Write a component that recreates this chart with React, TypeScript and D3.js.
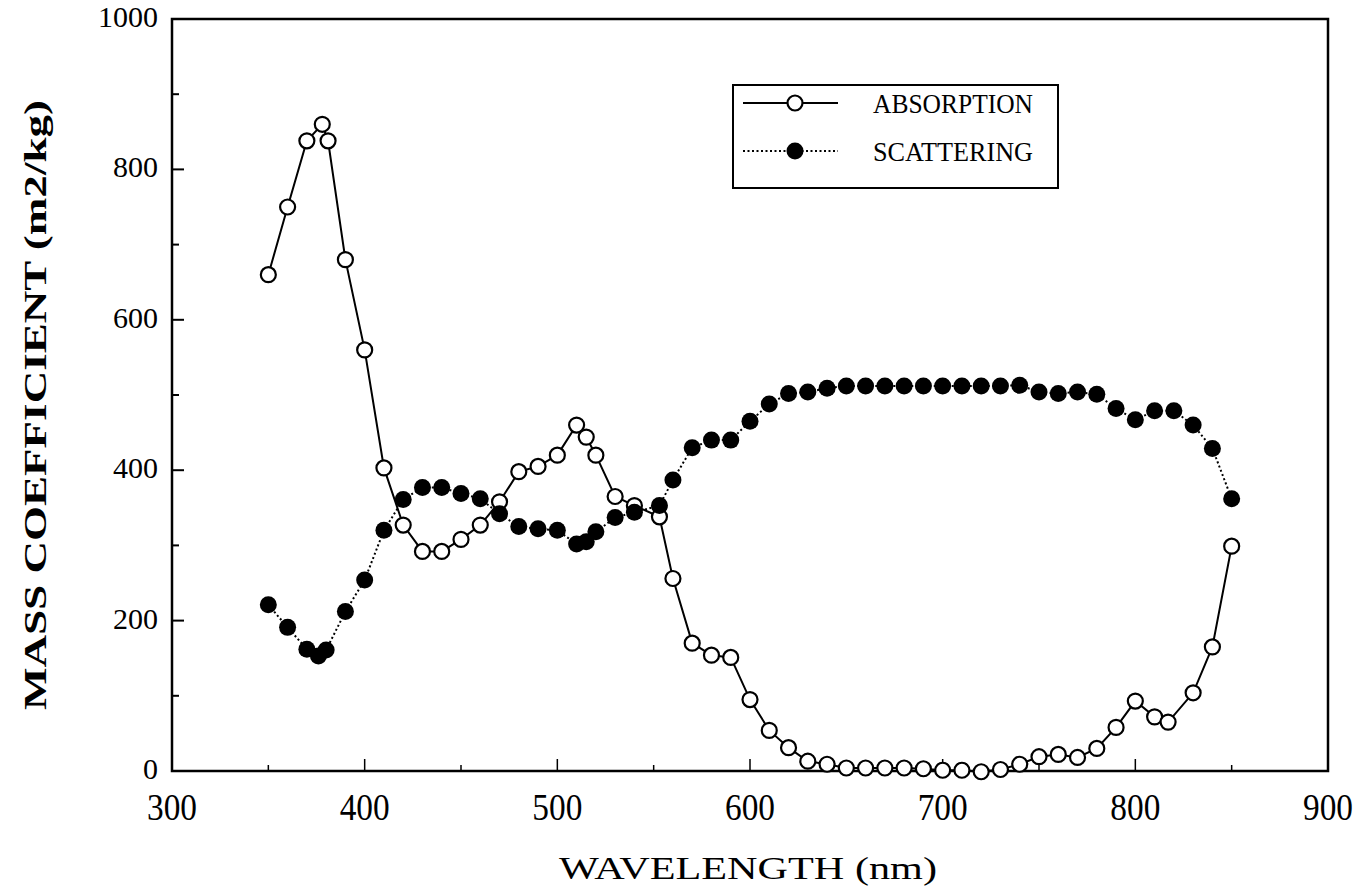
import React from "react";
import * as d3 from "d3";

const absX = [350,360,370,378,381,390,400,410,420,430,440,450,460,470,480,490,500,510,515,520,530,540,553,560,570,580,590,600,610,620,630,640,650,660,670,680,690,700,710,720,730,740,750,760,770,780,790,800,810,817,830,840,850];
const absY = [660,750,838,860,838,680,560,403,327,292,292,308,327,358,398,405,420,460,444,420,365,353,338,256,170,154,151,95,54,31,13,9,4,4,4,4,3,1,1,-1,2,9,19,22,18,30,58,93,72,65,104,165,299];

const scaX = [350,360,370,376,380,390,400,410,420,430,440,450,460,470,480,490,500,510,515,520,530,540,553,560,570,580,590,600,610,620,630,640,650,660,670,680,690,700,710,720,730,740,750,760,770,780,790,800,810,820,830,840,850];
const scaY = [221,191,162,153,161,212,254,320,361,377,377,369,362,342,325,322,320,302,305,318,337,344,353,387,430,440,440,465,488,502,504,509,512,512,512,512,512,512,512,512,512,513,504,502,504,501,482,467,479,479,460,429,362];

const xTicks = [300,400,500,600,700,800,900];
const xMinor = [350,450,550,650,750,850];
const yTicks = [0,200,400,600,800,1000];
const yMinor = [100,300,500,700,900];

const seriesNames = ["ABSORPTION", "SCATTERING"];

export default function App() {
  const W = 1369, H = 891;
  const L = 172, R = 1328, T = 19, B = 771;
  const x = d3.scaleLinear().domain([300, 900]).range([L, R]);
  const y = d3.scaleLinear().domain([0, 1000]).range([B, T]);
  const absData = absX.map((v, i) => [v, absY[i]] as [number, number]);
  const scaData = scaX.map((v, i) => [v, scaY[i]] as [number, number]);
  const line = d3.line<[number, number]>().x(d => x(d[0])).y(d => y(d[1]));
  const font = "'Liberation Serif', 'Times New Roman', serif";

  return (
    <svg width={W} height={H} style={{ position: "absolute", left: 0, top: 0, background: "#fff" }}>
      {/* frame */}
      <rect x={L} y={T} width={R - L} height={B - T} fill="none" stroke="#000" strokeWidth={2.5} />
      {/* x ticks */}
      {xTicks.map(t => (
        <line key={"xt" + t} x1={x(t)} x2={x(t)} y1={B} y2={B - 12} stroke="#000" strokeWidth={1.5} />
      ))}
      {xMinor.map(t => (
        <line key={"xm" + t} x1={x(t)} x2={x(t)} y1={B} y2={B - 6} stroke="#000" strokeWidth={1.5} />
      ))}
      {yTicks.map(t => (
        <line key={"yt" + t} x1={L} x2={L + 12} y1={y(t)} y2={y(t)} stroke="#000" strokeWidth={2} />
      ))}
      {yMinor.map(t => (
        <line key={"ym" + t} x1={L} x2={L + 7} y1={y(t)} y2={y(t)} stroke="#000" strokeWidth={2} />
      ))}
      {/* x tick labels */}
      {xTicks.map(t => (
        <text key={"xl" + t} x={x(t)} y={820} textAnchor="middle" fontFamily={font} fontSize={37}
          textLength={50} lengthAdjust="spacingAndGlyphs">{t}</text>
      ))}
      {/* y tick labels */}
      {yTicks.map(t => (
        <text key={"yl" + t} x={158} y={y(t) + 8} textAnchor="end" fontFamily={font} fontSize={30}
          textLength={t === 0 ? 15 : 15 * String(t).length} lengthAdjust="spacingAndGlyphs">{t}</text>
      ))}
      {/* axis titles */}
      <text x={748} y={879} textAnchor="middle" fontFamily={font} fontSize={31}
        textLength={378} lengthAdjust="spacingAndGlyphs">WAVELENGTH (nm)</text>
      <text transform={`translate(46,405) rotate(-90)`} textAnchor="middle" fontFamily={font} fontSize={31}
        fontWeight="bold" textLength={610} lengthAdjust="spacingAndGlyphs">MASS COEFFICIENT (m2/kg)</text>

      {/* absorption */}
      <path d={line(absData) || ""} fill="none" stroke="#000" strokeWidth={2} />
      {absData.map((d, i) => (
        <circle key={"a" + i} cx={x(d[0])} cy={y(d[1])} r={7.5} fill="#fff" stroke="#000" strokeWidth={2.2} />
      ))}
      {/* scattering */}
      <path d={line(scaData) || ""} fill="none" stroke="#000" strokeWidth={2} strokeDasharray="2,2.5" />
      {scaData.map((d, i) => (
        <circle key={"s" + i} cx={x(d[0])} cy={y(d[1])} r={8.5} fill="#000" />
      ))}

      {/* legend */}
      <rect x={733} y={85} width={325} height={103} fill="#fff" stroke="#000" strokeWidth={2} />
      <line x1={743} x2={838} y1={103} y2={103} stroke="#000" strokeWidth={2} />
      <circle cx={795} cy={103} r={7.5} fill="#fff" stroke="#000" strokeWidth={2.2} />
      <line x1={743} x2={838} y1={151} y2={151} stroke="#000" strokeWidth={2} strokeDasharray="2,2.5" />
      <circle cx={795} cy={151} r={8.5} fill="#000" />
      <text x={873} y={113} fontFamily={font} fontSize={27} textLength={160} lengthAdjust="spacingAndGlyphs">{seriesNames[0]}</text>
      <text x={873} y={161} fontFamily={font} fontSize={27} textLength={160} lengthAdjust="spacingAndGlyphs">{seriesNames[1]}</text>
    </svg>
  );
}
